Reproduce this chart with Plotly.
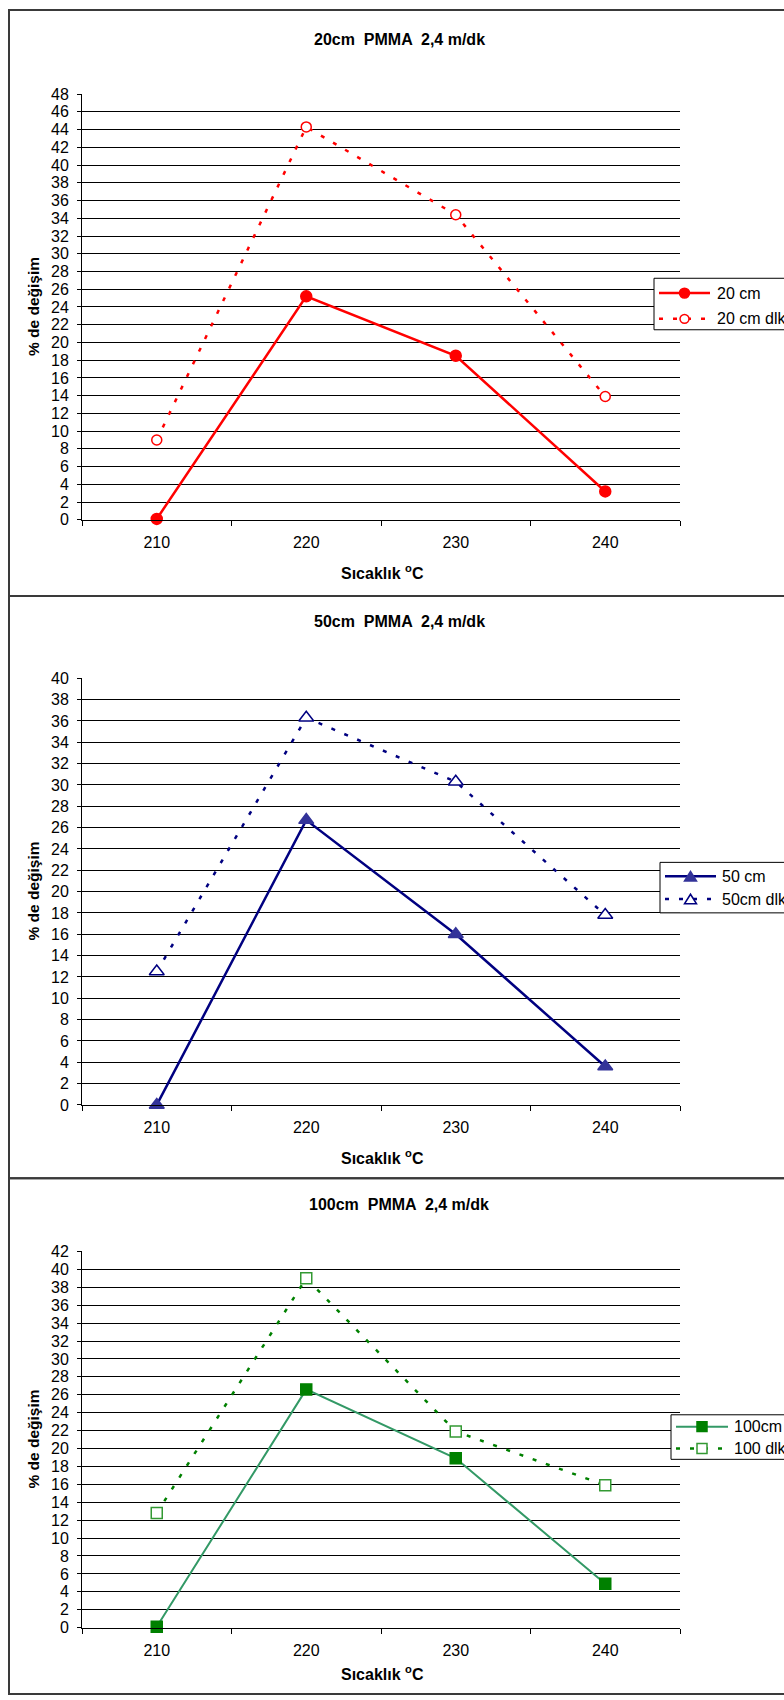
import plotly.graph_objects as go

# ---- data -------------------------------------------------------------
temps = ["210", "220", "230", "240"]

pct_20 = [0.1, 25.2, 18.5, 3.2]
pct_20_dlk = [9.0, 44.3, 34.4, 13.9]

pct_50 = [0.0, 26.7, 16.0, 3.6]
pct_50_dlk = [12.5, 36.3, 30.3, 17.8]

pct_100 = [0.1, 26.6, 18.9, 4.9]
pct_100_dlk = [12.8, 39.0, 21.9, 15.9]

titles = ["20cm  PMMA  2,4 m/dk", "50cm  PMMA  2,4 m/dk", "100cm  PMMA  2,4 m/dk"]
legend_names = [("20 cm", "20 cm dlk"), ("50 cm", "50cm dlk"), ("100cm", "100 dlk")]
y_max = [48, 40, 42]
x_title = "Sıcaklık <sup>o</sup>C"
y_title = "% de değişim"

# ---- page geometry (pixels) -------------------------------------------
W, H = 784, 1700
FONT = "Liberation Sans, Arial, sans-serif"


def X(px):
    return px / W


def Y(py):
    return 1 - py / H


plot_left, plot_right = 82, 680
plot_rows = [(87, 517), (677, 1108), (1256, 1636)]      # top / bottom of each plot area
boxes = [(2, 594), (594, 1182), (1182, 1703)]           # outer frame of each chart
title_y = [31.5, 620, 1209]
xtitle_y = [570, 1161, 1682]

red = "#FF0000"
navy = "#000080"
navy_mk = "#333399"
green_line = "#339966"
green_mk = "#008000"
green_open = "#339933"
dots = "4px,10px"

series = [
    # (values, name, line colour, line width, dash, marker symbol, fill, edge, size)
    [(pct_20, legend_names[0][0], red, 2.5, "solid", "circle", red, red, 11),
     (pct_20_dlk, legend_names[0][1], red, 2.5, dots, "circle", "white", red, 10)],
    [(pct_50, legend_names[1][0], navy, 2.5, "solid", "triangle-up", navy_mk, navy_mk, 13),
     (pct_50_dlk, legend_names[1][1], navy, 2.5, dots, "triangle-up", "white", navy, 13)],
    [(pct_100, legend_names[2][0], green_line, 2, "solid", "square", green_mk, green_mk, 11),
     (pct_100_dlk, legend_names[2][1], green_mk, 2.5, dots, "square", "white", green_open, 11)],
]

fig = go.Figure()
shapes = []
annotations = []

for i in range(3):
    ax = "" if i == 0 else str(i + 1)
    for vals, name, lc, lw, dash, sym, fill, edge, size in series[i]:
        fig.add_trace(go.Scatter(
            x=temps, y=vals, name=name, mode="lines+markers",
            xaxis="x" + ax, yaxis="y" + ax, cliponaxis=False, showlegend=False,
            line=dict(color=lc, width=lw, dash=dash),
            marker=dict(symbol=sym, size=size, color=fill, line=dict(color=edge, width=1.5)),
        ))

    top, bottom = plot_rows[i]
    fig.update_layout(**{
        "xaxis" + ax: dict(
            domain=[X(plot_left), X(plot_right)], anchor="y" + ax, type="category",
            range=[-0.5, 3.5], tickson="boundaries", ticks="outside", ticklen=5,
            tickcolor="black", showline=True, linecolor="black", linewidth=1,
            showgrid=False, zeroline=False, ticklabelstandoff=8,
            tickfont=dict(family=FONT, size=16, color="black"),
        ),
        "yaxis" + ax: dict(
            domain=[Y(bottom), Y(top)], anchor="x" + ax, range=[0, y_max[i]],
            dtick=2, ticks="outside", ticklen=4, tickcolor="black",
            showline=True, linecolor="black", linewidth=1,
            showgrid=True, gridcolor="black", gridwidth=1, zeroline=False,
            ticklabelstandoff=5,
            tickfont=dict(family=FONT, size=16, color="black"),
        ),
    })

    # outer frame of the chart
    b0, b1 = boxes[i]
    shapes.append(dict(type="rect", xref="paper", yref="paper",
                       x0=X(9), x1=X(800), y0=Y(b1), y1=Y(b0),
                       line=dict(color="#3a3a3a", width=2), layer="below"))

    # chart title and axis titles
    annotations.append(dict(text="<b>" + titles[i] + "</b>", x=X(399), y=Y(title_y[i]),
                            xref="paper", yref="paper", showarrow=False,
                            xanchor="center", yanchor="middle",
                            font=dict(family=FONT, size=16, color="black")))
    annotations.append(dict(text="<b>" + x_title + "</b>", x=X(382), y=Y(xtitle_y[i]),
                            xref="paper", yref="paper", showarrow=False,
                            xanchor="center", yanchor="middle",
                            font=dict(family=FONT, size=16, color="black")))
    annotations.append(dict(text="<b>" + y_title + "</b>", x=X(34), y=Y((top + bottom) / 2),
                            xref="paper", yref="paper", showarrow=False, textangle=-90,
                            xanchor="center", yanchor="middle",
                            font=dict(family=FONT, size=15.5, color="black")))

# ---- legends: framed boxes with line/marker samples --------------------
legend_geom = [
    # box left, box top, box bottom, sample x0, sample x1, text x, row y's
    (654, 273, 325, 659, 710, 715, (288, 314)),
    (660, 863, 914, 665, 716, 720, (877, 900)),
    (671, 1421, 1466, 676, 728, 732, (1433, 1455)),
]


def marker_shape(sym, cx, cy, size, fill, edge):
    r = size / 2
    if sym == "circle":
        return dict(type="circle", xref="paper", yref="paper",
                    x0=X(cx - r), x1=X(cx + r), y0=Y(cy + r), y1=Y(cy - r),
                    fillcolor=fill, line=dict(color=edge, width=1.5))
    if sym == "square":
        return dict(type="rect", xref="paper", yref="paper",
                    x0=X(cx - r), x1=X(cx + r), y0=Y(cy + r), y1=Y(cy - r),
                    fillcolor=fill, line=dict(color=edge, width=1.5))
    hw, hh = r * 1.0, r * 0.8
    path = "M{},{} L{},{} L{},{} Z".format(X(cx - hw), Y(cy + hh), X(cx + hw), Y(cy + hh),
                                          X(cx), Y(cy - hh))
    return dict(type="path", xref="paper", yref="paper", path=path,
                fillcolor=fill, line=dict(color=edge, width=1.5))


for i, (bl, bt, bb, sx0, sx1, tx, rows) in enumerate(legend_geom):
    shapes.append(dict(type="rect", xref="paper", yref="paper",
                       x0=X(bl), x1=X(800), y0=Y(bb), y1=Y(bt),
                       fillcolor="white", line=dict(color="black", width=1), layer="above"))
    for (vals, name, lc, lw, dash, sym, fill, edge, size), ry in zip(series[i], rows):
        shapes.append(dict(type="line", xref="paper", yref="paper",
                           x0=X(sx0), x1=X(sx1), y0=Y(ry), y1=Y(ry),
                           line=dict(color=lc, width=lw, dash=dash)))
        shapes.append(marker_shape(sym, (sx0 + sx1) / 2, ry, size - 1, fill, edge))
        annotations.append(dict(text=name, x=X(tx), y=Y(ry), xref="paper", yref="paper",
                                showarrow=False, xanchor="left", yanchor="middle",
                                font=dict(family=FONT, size=16, color="black")))

fig.update_layout(
    width=W, height=H, margin=dict(l=0, r=0, t=0, b=0),
    paper_bgcolor="white", plot_bgcolor="white",
    shapes=shapes, annotations=annotations, showlegend=False,
)

fig.write_html("out.html")
